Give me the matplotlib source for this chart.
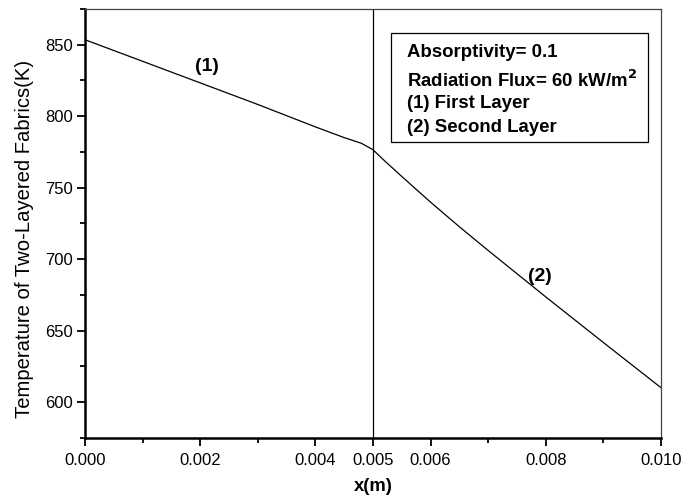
import numpy as np
import matplotlib
matplotlib.use("Agg")
import matplotlib.pyplot as plt
from matplotlib.ticker import MultipleLocator
from matplotlib.patches import Rectangle

plt.rcParams['font.family'] = ['Liberation Sans', 'DejaVu Sans']

# temperature profile through the two layers
x_m = [0.0, 0.001, 0.002, 0.003, 0.004, 0.0045, 0.0048, 0.005,
       0.0052, 0.0055, 0.006, 0.0065, 0.007, 0.008, 0.009, 0.010]
temp_k = [853.5, 838.4, 823.3, 808.2, 792.5, 785.0, 781.0, 776.5,
          768.8, 757.8, 739.8, 722.6, 706.0, 673.5, 641.6, 610.0]
interface_x = 0.005
x_ticks = [0.0, 0.002, 0.004, 0.005, 0.006, 0.008, 0.010]
x_tick_labels = ["0.000", "0.002", "0.004", "0.005", "0.006", "0.008", "0.010"]
y_ticks = [600, 650, 700, 750, 800, 850]

fig = plt.figure(figsize=(6.85, 5.04), dpi=100)
ax = fig.add_axes([85 / 685, 1 - 437.7 / 504, 576 / 685, 428.7 / 504])

ax.plot(x_m, temp_k, color='black', lw=0.9)
ax.axvline(interface_x, color='black', lw=0.9)

ax.set_xlim(0, 0.010)
ax.set_ylim(575, 875)
ax.set_xticks(x_ticks)
ax.set_xticklabels(x_tick_labels)
ax.set_yticks(y_ticks)
ax.xaxis.set_minor_locator(MultipleLocator(0.001))
ax.yaxis.set_minor_locator(MultipleLocator(25))
ax.tick_params(which='both', direction='out', labelsize=12, width=1.3)
ax.tick_params(which='major', length=6)
ax.tick_params(which='minor', length=3.5)
ax.tick_params(axis='x', pad=5)
ax.tick_params(axis='y', pad=3)

for s in ['left', 'bottom']:
    ax.spines[s].set_linewidth(1.8)
for s in ['top', 'right']:
    ax.spines[s].set_linewidth(0.9)
    ax.spines[s].set_color('#444444')

ax.set_xlabel("x(m)", fontsize=13.3, fontweight='bold', labelpad=7)
ax.set_ylabel("Temperature of Two-Layered Fabrics(K)", fontsize=14.6)
ax.yaxis.set_label_coords(-0.088, 0.4635)

ax.text(0.00211, 834.8, "(1)", fontsize=14, fontweight='bold', ha='center', va='center')
ax.text(0.0079, 688, "(2)", fontsize=14, fontweight='bold', ha='center', va='center')

# annotation box
ax.add_patch(Rectangle((0.005313, 782.0), 0.009774 - 0.005313, 858.4 - 782.0,
                       fill=False, ec='black', lw=0.9, zorder=3))
note_lines = ["Absorptivity= 0.1",
              "Radiation Flux= 60 kW/m$^\\mathbf{2}$",
              "(1) First Layer",
              "(2) Second Layer"]
note_y = [844.4, 825.2, 808.8, 792.2]
for line, yy in zip(note_lines, note_y):
    ax.text(0.005585, yy, line, fontsize=13.4, fontweight='bold', ha='left', va='center')

fig.savefig("out.png", dpi=100)
